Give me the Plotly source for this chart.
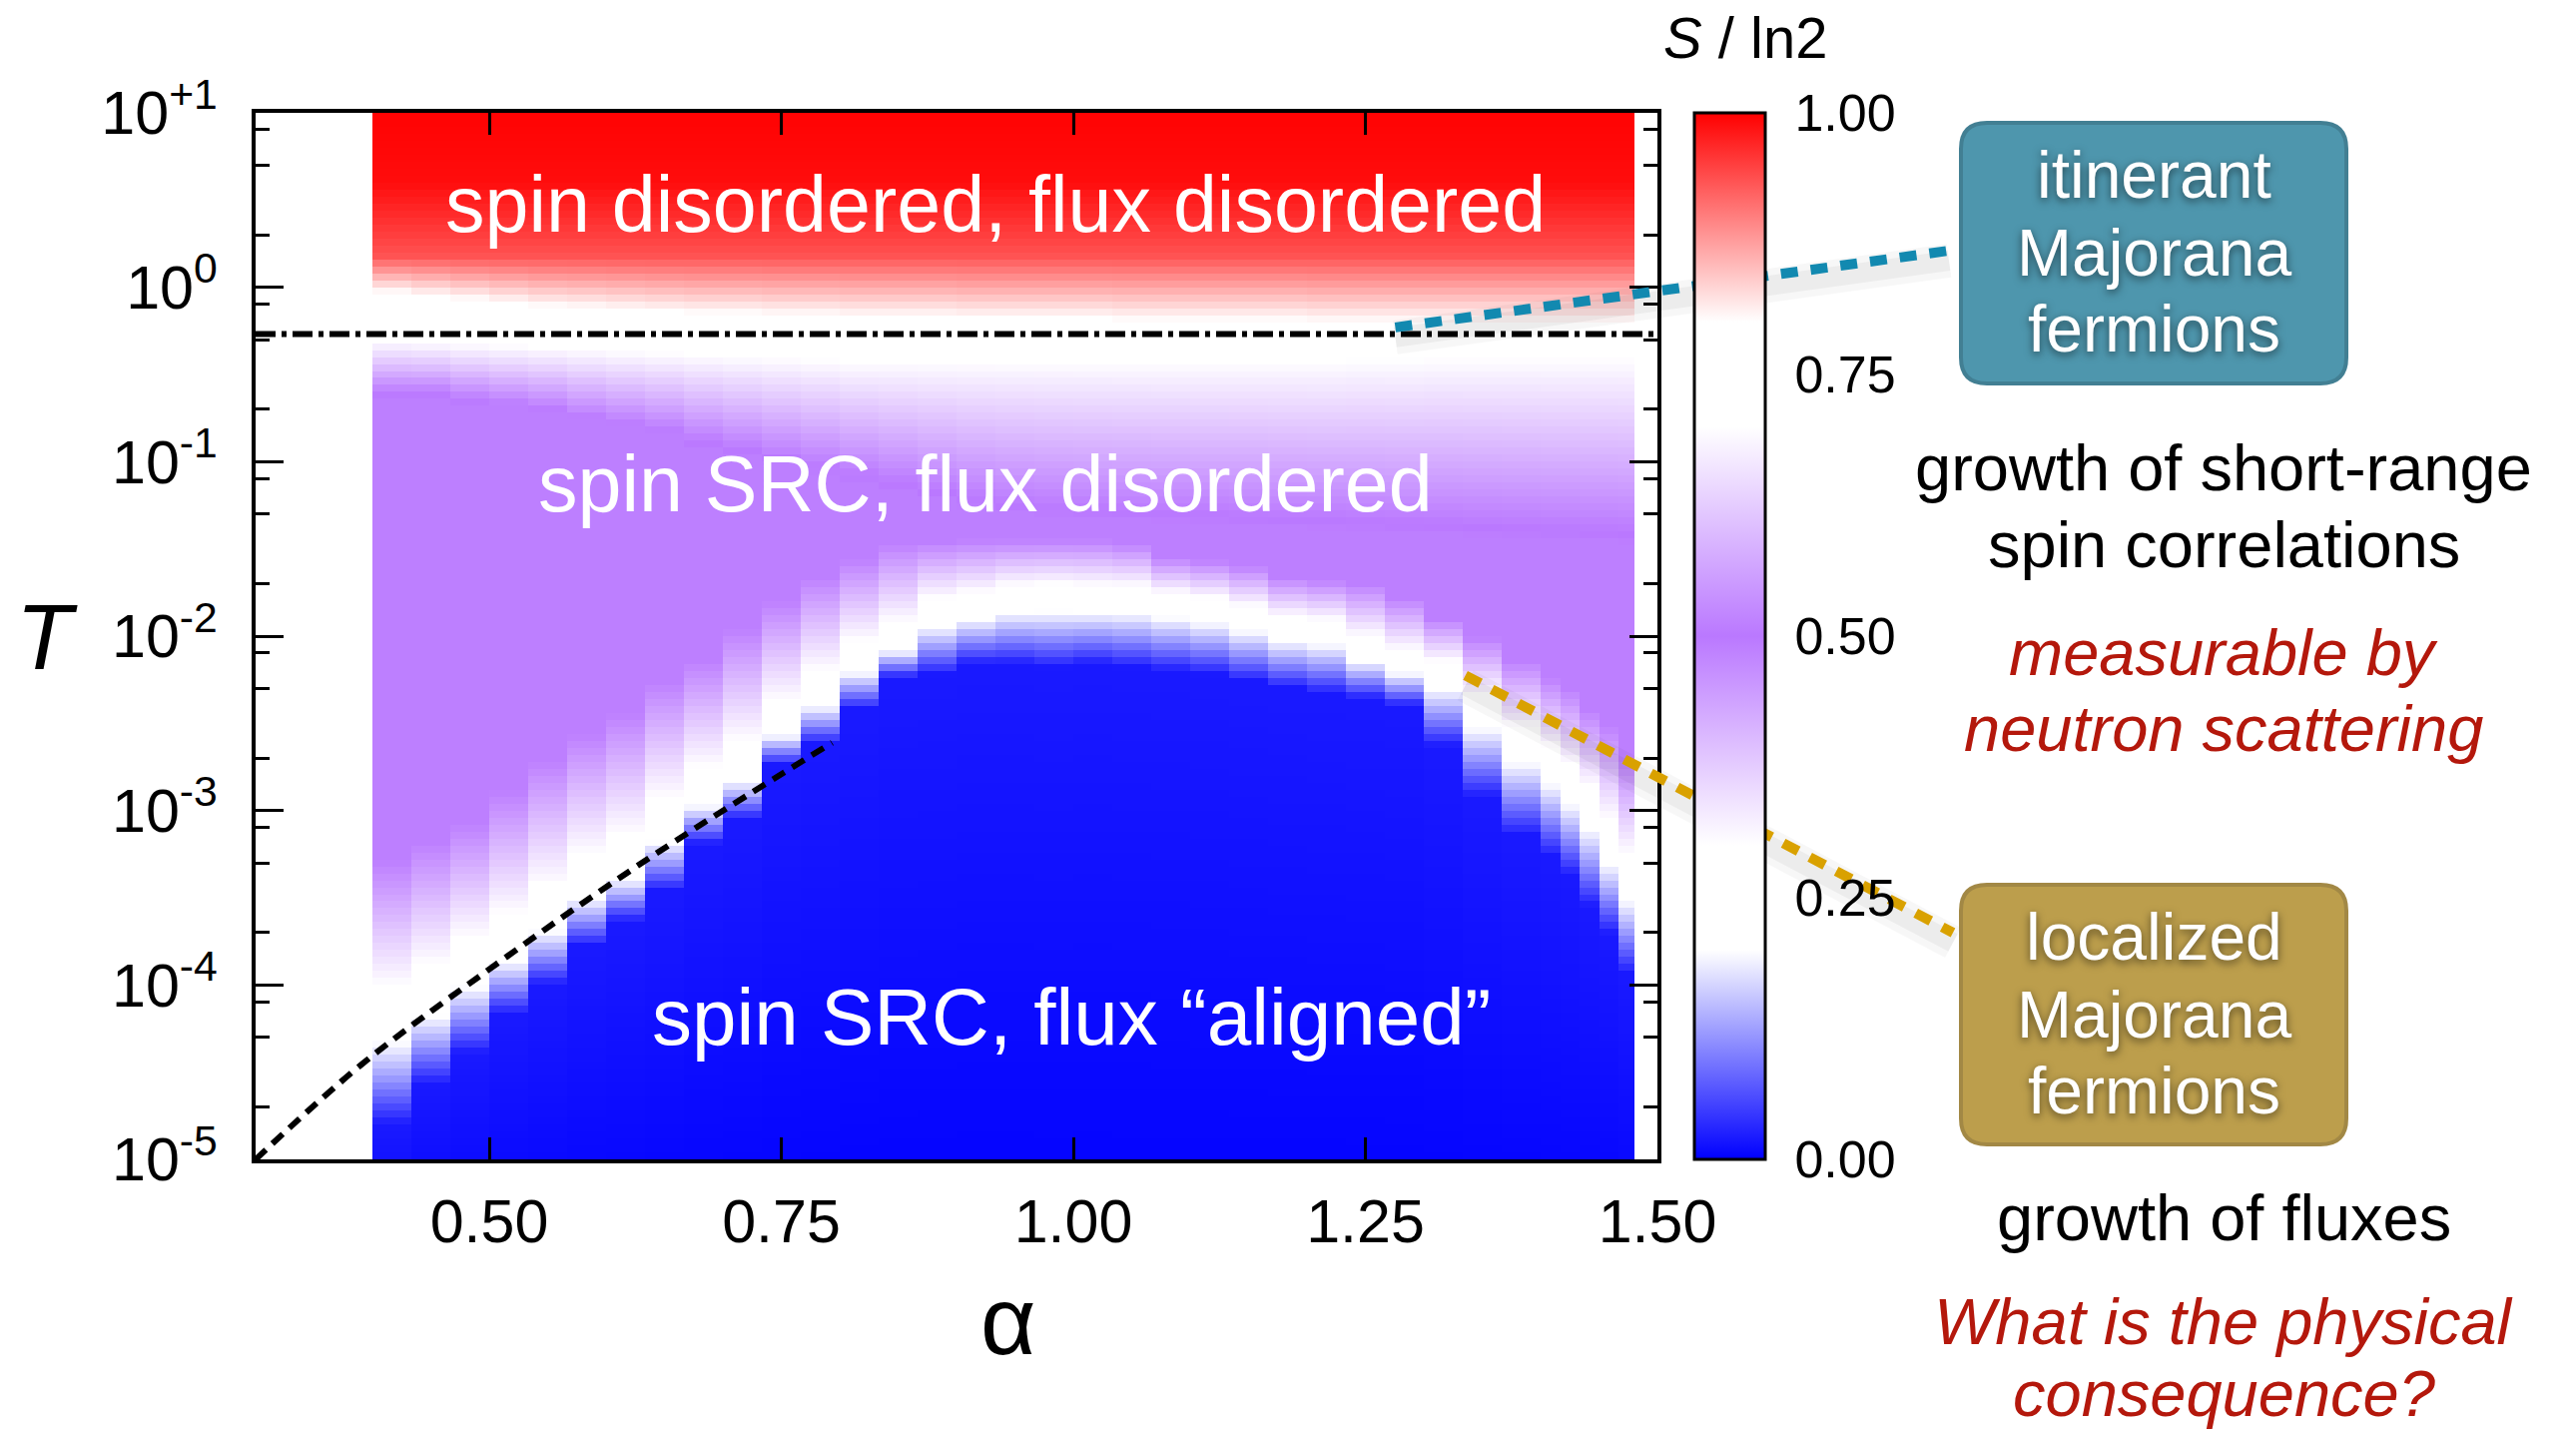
import numpy as np
import plotly.graph_objects as go

# ---------------- data ----------------
# alpha cell edges of the entropy map (35 columns)
alpha_edges = [0.40, 0.4333, 0.4667, 0.50, 0.5333, 0.5667, 0.60, 0.6333, 0.6667, 0.70,
               0.7333, 0.7667, 0.80, 0.8333, 0.8667, 0.90, 0.9333, 0.9667, 1.00, 1.0333,
               1.0667, 1.10, 1.1333, 1.1667, 1.20, 1.2333, 1.2667, 1.30, 1.3333, 1.3667,
               1.40, 1.4167, 1.4333, 1.45, 1.4667, 1.48]

# per column: log10 T where S/ln2 is almost 0 (deep blue)
logT_blue = [-4.80, -4.57, -4.39, -4.17, -4.00, -3.78, -3.64, -3.46, -3.19, -3.05, -2.74, -2.62,
             -2.42, -2.24, -2.22, -2.16, -2.16, -2.18, -2.16, -2.18, -2.20, -2.22, -2.26, -2.30,
             -2.33, -2.36, -2.40, -2.63, -2.92, -3.14, -3.26, -3.37, -3.55, -3.71, -3.94]
# per column: log10 T of the flux crossover (S/ln2 = 0.25, white band)
logT_flux = [-4.20, -4.07, -3.91, -3.78, -3.61, -3.43, -3.32, -3.10, -2.91, -2.77, -2.52, -2.34,
             -2.15, -2.04, -1.87, -1.83, -1.78, -1.77, -1.78, -1.78, -1.81, -1.84, -1.89, -1.95,
             -1.97, -2.08, -2.16, -2.21, -2.42, -2.61, -2.73, -2.85, -2.98, -3.19, -3.40]
# per column: log10 T where the plateau starts to drop towards the flux crossover
logT_top = [-3.29, -3.18, -3.07, -2.89, -2.71, -2.56, -2.44, -2.26, -2.14, -1.96, -1.80, -1.66,
            -1.56, -1.47, -1.46, -1.45, -1.45, -1.45, -1.45, -1.47, -1.55, -1.57, -1.60, -1.66,
            -1.68, -1.70, -1.78, -1.90, -2.01, -2.14, -2.24, -2.30, -2.42, -2.51, -2.69]
# per column: log10 T where the half plateau is reached from above
logT_spin = [-0.63, -0.63, -0.67, -0.70, -0.73, -0.78, -0.82, -0.86, -0.92, -0.97, -1.02, -1.07,
             -1.12, -1.17, -1.22, -1.27, -1.30, -1.32, -1.33, -1.34, -1.35, -1.36, -1.37, -1.38,
             -1.39, -1.40, -1.41, -1.42, -1.43, -1.44, -1.45, -1.45, -1.46, -1.46, -1.47]
# per column: log10 T of S/ln2 = 0.70 and 0.80 (edges of the high-T white band)
logT_w70 = [-0.30, -0.31, -0.32, -0.33, -0.34, -0.35, -0.36, -0.37, -0.38, -0.39, -0.40, -0.41,
            -0.42, -0.42, -0.42, -0.42, -0.42, -0.42, -0.42, -0.42, -0.42, -0.42, -0.42, -0.42,
            -0.42, -0.41, -0.41, -0.40, -0.40, -0.40, -0.40, -0.40, -0.40, -0.40, -0.40]
logT_w80 = [-0.03, -0.05, -0.07, -0.09, -0.11, -0.12, -0.13, -0.14, -0.15, -0.15, -0.16, -0.16,
            -0.17, -0.17, -0.17, -0.18, -0.18, -0.18, -0.18, -0.19, -0.19, -0.19, -0.19, -0.19,
            -0.20, -0.20, -0.20, -0.20, -0.20, -0.20, -0.20, -0.20, -0.20, -0.20, -0.20]
plateau_S = 0.49
# common high-temperature part (log10 T, S/ln2)
high_logT = [0.18, 0.33, 0.60, 1.10]
high_S = [0.935, 0.955, 0.99, 1.00]

# crossover lines
T_spin_cross = 0.54                                   # dash-dotted line
fit_alpha = [0.30, 0.39, 0.50, 0.633, 0.7935]          # dashed black line
fit_T = [1.0e-5, 3.47e-5, 1.23e-4, 5.13e-4, 2.45e-3]

# axis ticks
x_tickvals = [0.50, 0.75, 1.00, 1.25, 1.50]
x_ticktext = ["0.50", "0.75", "1.00", "1.25", "1.50"]
y_tickvals = [1e-5, 1e-4, 1e-3, 1e-2, 1e-1, 1e0, 1e1]
y_ticktext = ["10<sup>-5</sup>", "10<sup>-4</sup>", "10<sup>-3</sup>", "10<sup>-2</sup>",
              "10<sup>-1</sup>", "10<sup>0</sup>", "10<sup>+1</sup>"]
y_minor_mult = [2, 5, 8]
cb_tickvals = [0.0, 0.25, 0.50, 0.75, 1.00]
cb_ticktext = ["0.00", "0.25", "0.50", "0.75", "1.00"]

# ---------------- build the map ----------------
n_rows = 150
T_edges = 10 ** np.linspace(-5, 1, n_rows + 1)
logT_c = np.linspace(-5, 1, n_rows + 1)
logT_c = 0.5 * (logT_c[1:] + logT_c[:-1])
ncol = len(alpha_edges) - 1
Z = np.zeros((n_rows, ncol))
for j in range(ncol):
    kx = [-5.6, logT_blue[j], logT_flux[j], logT_top[j], logT_spin[j], logT_w70[j], logT_w80[j]] + high_logT
    ky = [0.0, 0.02, 0.25, plateau_S, plateau_S, 0.70, 0.80] + high_S
    Z[:, j] = np.interp(logT_c, kx, ky)

colorscale = [[0.0, "#0000ff"], [0.2, "#ffffff"], [0.3, "#ffffff"], [0.5, "#ba78ff"],
              [0.7, "#ffffff"], [0.8, "#ffffff"], [1.0, "#ff0000"]]

# ---------------- layout geometry (pixels) ----------------
W, H = 2580, 1431
ML, MT = 256, 113
PW, PH = 1404, 1048
MR = W - ML - PW
MB = H - MT - PH
FONT = "Liberation Sans, Arial, Helvetica, sans-serif"


def px(x):
    return (x - ML) / PW


def py(y):
    return (MT + PH - y) / PH


def dx(a):
    return (a - 0.3) / 1.2


def dy(T):
    return (np.log10(T) + 5) / 6


fig = go.Figure()
fig.add_trace(go.Heatmap(
    x=alpha_edges, y=T_edges, z=Z, colorscale=colorscale, zmin=0, zmax=1,
    hoverinfo="skip",
    colorbar=dict(x=px(1697), xanchor="left", y=0.5, yanchor="middle", len=1.0,
                  lenmode="fraction", thickness=71, thicknessmode="pixels",
                  xpad=0, ypad=0, outlinewidth=3, outlinecolor="black",
                  tickmode="array", tickvals=cb_tickvals, ticktext=cb_ticktext,
                  ticks="outside", ticklen=18, tickwidth=1, tickcolor="rgba(0,0,0,0)",
                  tickfont=dict(family=FONT, size=52, color="black")),
))

fig.add_trace(go.Scatter(x=[0.3, 1.5], y=[T_spin_cross, T_spin_cross], mode="lines",
                         line=dict(color="black", width=6, dash="20px,6px,5px,6px"),
                         hoverinfo="skip", showlegend=False))
fig.add_trace(go.Scatter(x=fit_alpha, y=fit_T, mode="lines",
                         line=dict(color="black", width=6, dash="14px,9px", shape="spline"),
                         hoverinfo="skip", showlegend=False))

shapes = []
# connector lines (with a soft shadow)
conn = [
    ((dx(1.2756), dy(10 ** -0.23)), (px(1952), py(251)), "#1289b0"),
    ((dx(1.3356), dy(10 ** -2.225)), (px(1956), py(934)), "#d9a100"),
]
for (x0, y0), (x1, y1), col in conn:
    off = 10 / PH
    for wdt, a in [(34, 0.03), (20, 0.045)]:
        shapes.append(dict(type="line", xref="paper", yref="paper", x0=x0, y0=y0 - off,
                           x1=x1, y1=y1 - off, line=dict(color=f"rgba(0,0,0,{a})", width=wdt),
                           layer="above"))
    shapes.append(dict(type="line", xref="paper", yref="paper", x0=x0, y0=y0, x1=x1, y1=y1,
                       line=dict(color=col, width=10, dash="17px,13px"), layer="above"))


def rrect(x0, y0, x1, y1, r):
    pts = (f"M {px(x0 + r)},{py(y0)} L {px(x1 - r)},{py(y0)} Q {px(x1)},{py(y0)} {px(x1)},{py(y0 + r)} "
           f"L {px(x1)},{py(y1 - r)} Q {px(x1)},{py(y1)} {px(x1 - r)},{py(y1)} "
           f"L {px(x0 + r)},{py(y1)} Q {px(x0)},{py(y1)} {px(x0)},{py(y1 - r)} "
           f"L {px(x0)},{py(y0 + r)} Q {px(x0)},{py(y0)} {px(x0 + r)},{py(y0)} Z")
    return pts


shapes.append(dict(type="path", xref="paper", yref="paper", path=rrect(1964, 123, 2350, 384, 26),
                   fillcolor="#4e96ad", line=dict(color="#427f93", width=4), layer="above"))
shapes.append(dict(type="path", xref="paper", yref="paper", path=rrect(1964, 886, 2350, 1146, 26),
                   fillcolor="#bc9e4c", line=dict(color="#a28845", width=4), layer="above"))

# colorbar ticks on both inner edges
for v in [0.25, 0.5, 0.75]:
    for xa, xb in [(1698, 1718), (1747, 1767)]:
        shapes.append(dict(type="line", xref="paper", yref="paper", x0=px(xa), x1=px(xb), y0=v, y1=v,
                           line=dict(color="black", width=3), layer="above"))

ann = []


def text(x, y, s, size, color="black", italic=False, shadow=None):
    f = dict(family=FONT, size=size, color=color)
    if italic:
        f["style"] = "italic"
    if shadow:
        f["shadow"] = shadow
    ann.append(dict(x=px(x), y=py(y), xref="paper", yref="paper", text=s, showarrow=False,
                    xanchor="center", yanchor="middle", font=f))


text(997, 204, "spin disordered, flux disordered", 79, "white")
text(987, 484, "spin SRC, flux disordered", 79, "white")
text(1073, 1018, "spin SRC, flux \u201caligned\u201d", 80, "white")
text(47, 638, "<i>T</i>", 92)
text(1010, 1322, "\u03b1", 96)
text(1748, 38, "<i>S</i> / ln2", 58)

sh = "0px 3px 9px rgba(0,0,0,0.55)"
for yy, s in zip([175, 253, 329], ["itinerant", "Majorana", "fermions"]):
    text(2157, yy, s, 66, "white", shadow=sh)
for yy, s in zip([938, 1016, 1092], ["localized", "Majorana", "fermions"]):
    text(2157, yy, s, 66, "white", shadow=sh)

RED = "#b4180c"
text(2227, 469, "growth of short-range", 65)
text(2227, 545, "spin correlations", 65)
text(2227, 653, "measurable by", 65, RED, italic=True)
text(2227, 729, "neutron scattering", 65, RED, italic=True)
text(2227, 1219, "growth of fluxes", 65)
text(2227, 1323, "What is the physical", 65, RED, italic=True)
text(2227, 1395, "consequence?", 65, RED, italic=True)

y_minor = [m * 10.0 ** e for e in range(-5, 1) for m in y_minor_mult]

fig.update_layout(
    width=W, height=H, margin=dict(l=ML, r=MR, t=MT, b=MB, pad=0),
    paper_bgcolor="white", plot_bgcolor="white", showlegend=False,
    shapes=shapes, annotations=ann,
    xaxis=dict(range=[0.3, 1.5], tickmode="array", tickvals=x_tickvals, ticktext=x_ticktext,
               ticks="inside", ticklen=22, tickwidth=3, tickcolor="black",
               showline=True, linewidth=4, linecolor="black", mirror="ticks",
               showgrid=False, zeroline=False, ticklabelstandoff=6,
               tickfont=dict(family=FONT, size=61, color="black")),
    yaxis=dict(type="log", range=[-5, 1], tickmode="array", tickvals=y_tickvals, ticktext=y_ticktext,
               ticks="inside", ticklen=28, tickwidth=3, tickcolor="black",
               minor=dict(tickmode="array", tickvals=y_minor, ticks="inside", ticklen=14,
                          tickwidth=3, tickcolor="black", showgrid=False),
               showline=True, linewidth=4, linecolor="black", mirror="ticks",
               showgrid=False, zeroline=False, ticklabelstandoff=22,
               tickfont=dict(family=FONT, size=61, color="black")),
)

fig.write_html("out.html")
